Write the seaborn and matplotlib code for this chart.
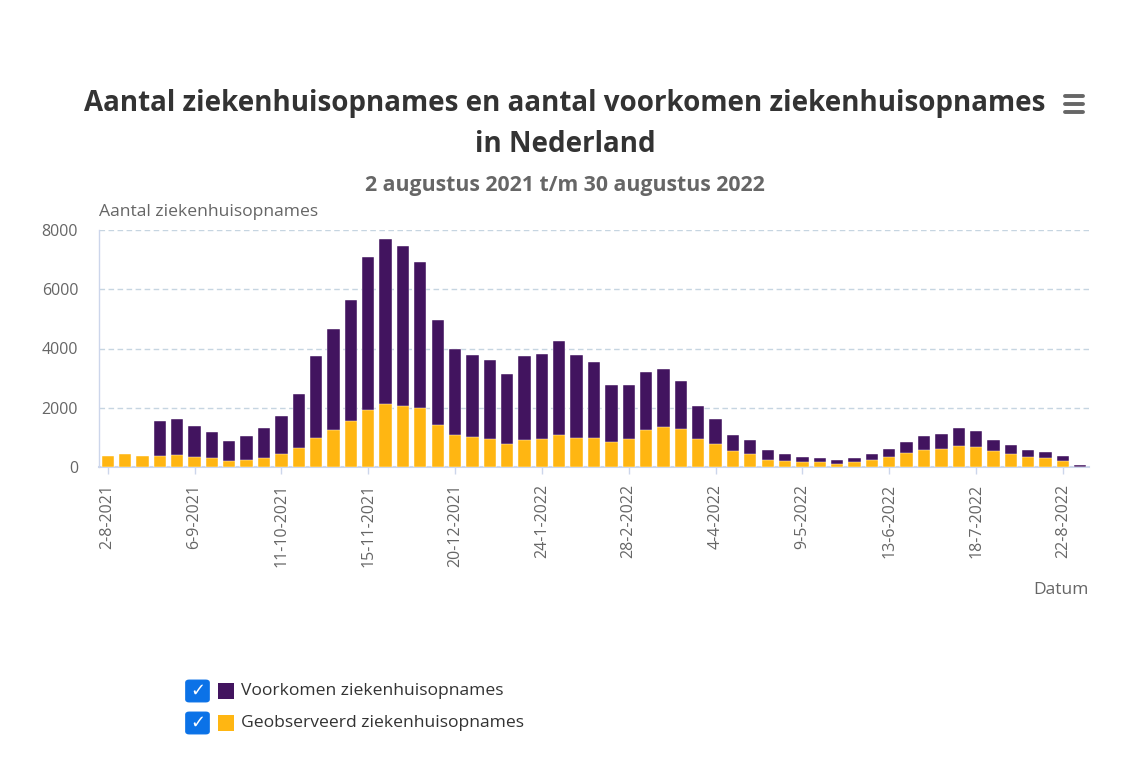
import pandas as pd
import seaborn as sns
import matplotlib.pyplot as plt
from matplotlib.patches import FancyBboxPatch, Rectangle
from matplotlib.lines import Line2D

# ----- data: weekly hospital admissions, 2-8-2021 t/m 29-8-2022 -----
weeks = ['2-8-2021', '9-8-2021', '16-8-2021', '23-8-2021', '30-8-2021', '6-9-2021', '13-9-2021',
         '20-9-2021', '27-9-2021', '4-10-2021', '11-10-2021', '18-10-2021', '25-10-2021', '1-11-2021',
         '8-11-2021', '15-11-2021', '22-11-2021', '29-11-2021', '6-12-2021', '13-12-2021', '20-12-2021',
         '27-12-2021', '3-1-2022', '10-1-2022', '17-1-2022', '24-1-2022', '31-1-2022', '7-2-2022',
         '14-2-2022', '21-2-2022', '28-2-2022', '7-3-2022', '14-3-2022', '21-3-2022', '28-3-2022',
         '4-4-2022', '11-4-2022', '18-4-2022', '25-4-2022', '2-5-2022', '9-5-2022', '16-5-2022',
         '23-5-2022', '30-5-2022', '6-6-2022', '13-6-2022', '20-6-2022', '27-6-2022', '4-7-2022',
         '11-7-2022', '18-7-2022', '25-7-2022', '1-8-2022', '8-8-2022', '15-8-2022', '22-8-2022',
         '29-8-2022']

observed = [380, 425, 380, 380, 390, 340, 290, 200, 245, 290, 440, 650, 990, 1235, 1565, 1935,
            2115, 2070, 1980, 1420, 1090, 1000, 955, 765, 900, 955, 1090, 995, 990, 855, 945,
            1235, 1360, 1270, 955, 765, 530, 440, 245, 200, 155, 155, 110, 155, 245, 340, 485,
            575, 620, 710, 665, 530, 425, 340, 290, 200, 0]

prevented = [0, 0, 0, 1160, 1240, 1055, 890, 690, 790, 1025, 1290, 1825, 2745, 3435, 4085, 5155,
             5585, 5395, 4930, 3530, 2895, 2780, 2645, 2365, 2835, 2870, 3155, 2785, 2555, 1900,
             1810, 1985, 1950, 1635, 1105, 865, 550, 460, 330, 240, 185, 135, 135, 135, 180, 280,
             370, 460, 505, 605, 560, 370, 330, 235, 225, 180, 60]

tick_labels = ['2-8-2021', '6-9-2021', '11-10-2021', '15-11-2021', '20-12-2021', '24-1-2022',
               '28-2-2022', '4-4-2022', '9-5-2022', '13-6-2022', '18-7-2022', '22-8-2022']
y_ticks = [0, 2000, 4000, 6000, 8000]

series_names = ['Voorkomen ziekenhuisopnames', 'Geobserveerd ziekenhuisopnames']
purple = '#42145f'
orange = '#ffb612'

df = pd.DataFrame({'week': weeks, 'observed': observed, 'prevented': prevented})
df['total'] = df['observed'] + df['prevented']

sns.set_theme(style='white')
plt.rcParams['font.family'] = ['Open Sans', 'DejaVu Sans']

W, H = 1130, 757
fx = lambda px: px / W
fy = lambda py: 1 - py / H

fig = plt.figure(figsize=(W / 100, H / 100), dpi=100)
ax = fig.add_axes([fx(99), fy(467), 990 / W, 237 / H])

# stacked: total in purple, observed part drawn over it in orange
sns.barplot(data=df, x='week', y='total', color=purple, saturation=1, width=0.71,
            errorbar=None, edgecolor='white', linewidth=0.3, ax=ax, zorder=3)
sns.barplot(data=df, x='week', y='observed', color=orange, saturation=1, width=0.71,
            errorbar=None, edgecolor='white', linewidth=0.3, ax=ax, zorder=4)

ax.set_xlim(-0.5, len(weeks) - 0.5)
ax.set_ylim(0, 8000)
ax.set_yticks(y_ticks)
ax.set_yticklabels([str(v) for v in y_ticks])
ax.yaxis.grid(True, linestyle=(0, (4, 2.5)), color='#c6d5e1', linewidth=1)
ax.xaxis.grid(False)
ax.set_axisbelow(True)

ax.set_xticks([weeks.index(t) for t in tick_labels])
ax.set_xticklabels(tick_labels, rotation=90)
ax.tick_params(axis='x', length=5, width=1, color='#ccd6eb', labelcolor='#666666',
               labelsize=11.5, pad=7, bottom=True)
ax.tick_params(axis='y', length=0, labelcolor='#666666', labelsize=11.5, pad=15)
ax.set_xlabel('')
ax.set_ylabel('')

for side in ['top', 'right']:
    ax.spines[side].set_visible(False)
for side in ['left', 'bottom']:
    ax.spines[side].set_color('#ccd6eb')
ax.spines['bottom'].set_linewidth(1.5)
ax.spines['left'].set_linewidth(1)

# ----- titles -----
fig.text(0.5, fy(104), 'Aantal ziekenhuisopnames en aantal voorkomen ziekenhuisopnames',
         ha='center', va='center', fontsize=20, fontweight='bold', color='#333333')
fig.text(0.5, fy(144), 'in Nederland', ha='center', va='center', fontsize=20,
         fontweight='bold', color='#333333')
fig.text(0.5, fy(185), '2 augustus 2021 t/m 30 augustus 2022', ha='center', va='center',
         fontsize=15.3, fontweight='bold', color='#666666')

# menu icon
for yy in [96, 104, 112]:
    fig.add_artist(Line2D([fx(1065), fx(1083)], [fy(yy), fy(yy)], color='#666666',
                          linewidth=2.8, solid_capstyle='round'))

fig.text(fx(99), fy(212), 'Aantal ziekenhuisopnames', ha='left', va='center',
         fontsize=12.6, color='#666666')
fig.text(fx(1089), fy(590), 'Datum', ha='right', va='center', fontsize=12.5,
         color='#666666')

# ----- legend with checkboxes -----
for i, (name, col) in enumerate(zip(series_names, [purple, orange])):
    cy = 691 + i * 32
    box = FancyBboxPatch((fx(187), fy(cy + 10)), 21 / W, 20 / H,
                         boxstyle='round,pad=0.001,rounding_size=0.003',
                         transform=fig.transFigure, facecolor='#0b72e7', edgecolor='#0b72e7')
    fig.add_artist(box)
    fig.text(fx(197.5), fy(cy), '\u2713', ha='center', va='center', fontsize=13,
             fontweight='bold', color='white', family='DejaVu Sans')
    fig.add_artist(Rectangle((fx(218), fy(cy + 8)), 16 / W, 16 / H,
                             transform=fig.transFigure, facecolor=col, edgecolor='none'))
    fig.text(fx(241), fy(cy), name, ha='left', va='center', fontsize=12.6, color='#333333')

fig.savefig('out.png', dpi=100)
